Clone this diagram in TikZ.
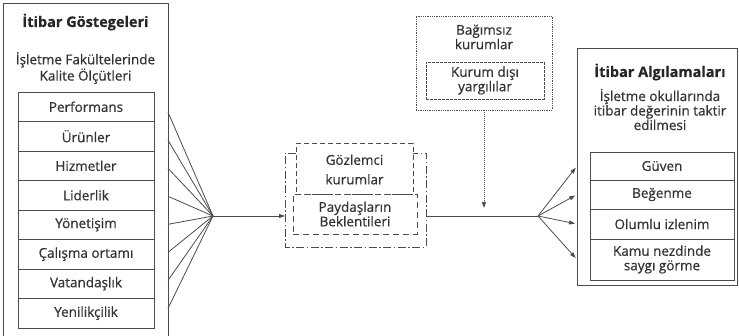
\documentclass[tikz,border=0pt]{standalone}
\usepackage{fontspec}
\setmainfont{Open Sans}[FakeBold=0.6]
\usetikzlibrary{positioning}
\usetikzlibrary{calc}
\usetikzlibrary{arrows.meta}

\begin{document}
\begin{tikzpicture}[x=1pt, y=-1pt, line width=0.8pt,
  ln/.style={draw=black!70},
  tip/.style={-{Triangle[length=6,width=4]}},
  frame/.style={inner sep=0, outer sep=0},
  cell/.style={draw=black!70, inner sep=0, outer sep=0, align=center, text=black!80, font=\fontsize{13.5}{14.5}\selectfont},
  ttl/.style={text=black!85, font=\bfseries\fontsize{14.5}{16}\selectfont},
  sub/.style={align=center, text=black!80, font=\fontsize{13.5}{14.5}\selectfont}]
\useasboundingbox (0,0) rectangle (739,336);

% left: quality criteria
\node[frame, minimum width=165, minimum height=333] (lft) at (85.5,169.5) {};
\draw[ln] (lft.south west) |- (lft.north east) -- (lft.south east);
\node[ttl] (ltitle) at (85.5,22) {İtibar Göstegeleri};
\node[sub] (lsub) at (85.5,68) {İşletme Fakültelerinde\\Kalite Ölçütleri};
\node[cell, minimum width=136, minimum height=29.5, anchor=north] (l1) at (86,92) {Performans};
\foreach \t [count=\i from 2, remember=\i as \j (initially 1)] in {Ürünler,Hizmetler,Liderlik,Yönetişim,Çalışma ortamı,Vatandaşlık,Yenilikçilik}
  \node[cell, minimum width=136, minimum height=29.5, below=0pt of l\j] (l\i) {\t};

% fan in
\coordinate (lj) at (213,216);
\foreach \i in {1,...,8}
  \draw[ln] (lft.east |- {$(lj)!0.95!(l\i)$}) -- (lj);

% stakeholders
\node[frame, minimum width=141, minimum height=94] (mid) at (355.5,200) {};
\node[cell, dashed, dash pattern=on 5pt off 3pt, line width=1pt, minimum width=117, minimum height=51] (goz) at (354.5,169.5) {Gözlemci\\[5pt]kurumlar};
\node[cell, dashed, dash pattern=on 6pt off 4pt, minimum width=124, minimum height=40] (pay) at (355,214) {Paydaşların\\Beklentileri};
\draw[ln, dash pattern=on 8pt off 2.5pt on 1.5pt off 2.5pt] (goz.north west |- mid.north) -| (mid.south west) -| (mid.north east) -- (goz.north east |- mid.north);
\draw[ln, tip] (lj) -- (lj -| mid.west);

% independent institutions
\node[cell, densely dotted, minimum width=136, minimum height=94] (bag) at (484,63) {};
\node[sub, below=5pt of bag.north] (bagt) {Bağımsız\\kurumlar};
\node[cell, dash pattern=on 3pt off 1pt, line width=0.6pt, minimum width=118, minimum height=37] (kur) at (485,80.5) {Kurum dışı\\yargılılar};

\coordinate (rj) at (538,216);
\draw[ln] (lj -| mid.east) -- (rj);
\coordinate (bj) at ($(bag.south |- rj)+(0,-8)$);
\draw[ln, densely dotted, line width=1pt, tip] (bag.south) -- (bj);

% right: perceptions
\node[frame, draw=black!70, minimum width=160, minimum height=237] (rout) at (657,166.5) {};
\node[ttl] (rtitle) at (660,72) {İtibar Algılamaları};
\node[sub] (rsub) at (660,109.5) {İşletme okullarında\\itibar değerinin taktir\\edilmesi};
\node[cell, minimum width=144, minimum height=28, anchor=north] (r1) at (662,152) {Güven};
\node[cell, minimum width=144, minimum height=29, below=0pt of r1] (r2) {Beğenme};
\node[cell, minimum width=144, minimum height=30, below=0pt of r2] (r3) {Olumlu izlenim};
\node[cell, minimum width=144, minimum height=41, below=0pt of r3] (r4) {Kamu nezdinde\\saygı görme};

% fan out
\foreach \i in {1,...,4}
  \draw[ln, tip, shorten >=2pt] (rj) -- (rout.west |- r\i);
\end{tikzpicture}
\end{document}
